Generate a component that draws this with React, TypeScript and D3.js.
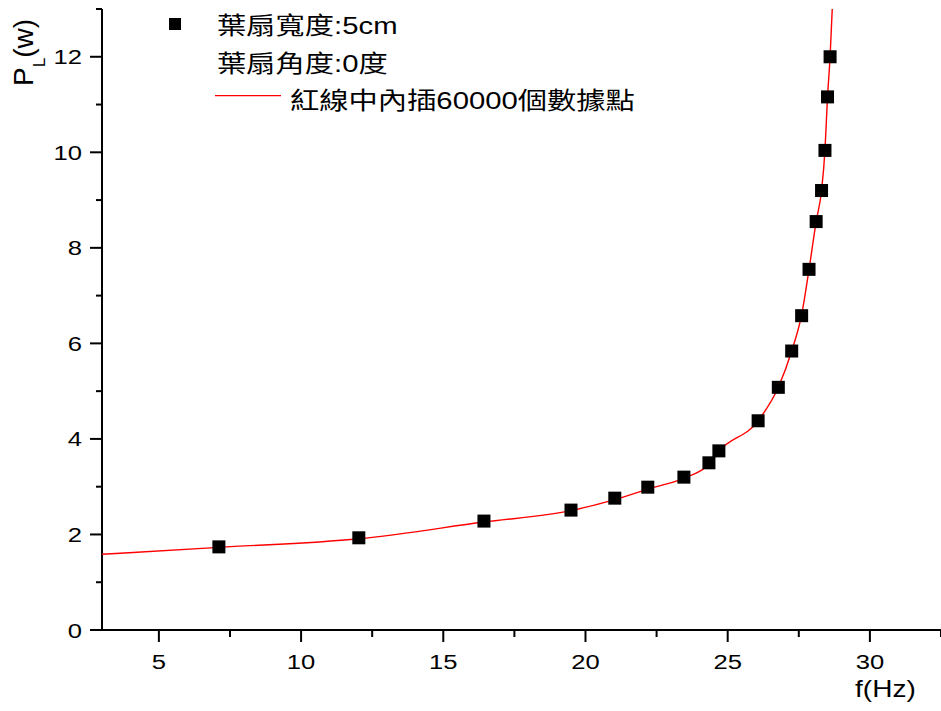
import React from "react";
import * as d3 from "d3";

// measured points: frequency (Hz) vs load power (W)
const freqHz = [
  7.11, 12.03, 16.43, 19.49, 21.03, 22.19, 23.46, 24.34, 24.69, 26.07, 26.78,
  27.25, 27.6, 27.86, 28.11, 28.3, 28.42, 28.51, 28.6,
];
const powerW = [
  1.74, 1.93, 2.28, 2.51, 2.76, 2.99, 3.2, 3.5, 3.75, 4.38, 5.08, 5.84, 6.58,
  7.55, 8.55, 9.2, 10.04, 11.16, 12.0,
];

// red interpolated curve
const curveF = [
  3, 7.11, 12.03, 16.43, 19.49, 21.03, 22.19, 23.46, 24.34, 24.69, 26.07, 26.78,
  27.25, 27.6, 27.86, 28.11, 28.3, 28.42, 28.51, 28.6, 28.68,
];
const curveP = [
  1.585, 1.73, 1.91, 2.26, 2.5, 2.73, 2.95, 3.18, 3.47, 3.74, 4.38, 5.08, 5.84,
  6.6, 7.55, 8.55, 9.2, 10.04, 11.16, 12.0, 13.05,
];

const xMajor = [5, 10, 15, 20, 25, 30];
const xMinor = [7.5, 12.5, 17.5, 22.5, 27.5, 32.5];
const yMajor = [0, 2, 4, 6, 8, 10, 12];
const yMinor = [1, 3, 5, 7, 9, 11, 13];

const legendLines = ["葉扇寬度:5cm", "葉扇角度:0度", "紅線中內插60000個數據點"];

const width = 941;
const height = 711;
const font = "'Liberation Sans', Arial, 'Noto Sans CJK TC', sans-serif";
const stretch = "scale(1.22,1)";

export default function App() {
  const x = d3.scaleLinear().domain([3, 32.5]).range([102, 941]);
  const y = d3.scaleLinear().domain([0, 13]).range([630, 9]);

  const pts = freqHz.map((f, i) => [f, powerW[i]]);
  const curve = curveF.map((f, i) => [f, curveP[i]]);
  const line = d3
    .line<number[]>()
    .x((d) => x(d[0]))
    .y((d) => y(d[1]))
    .curve(d3.curveMonotoneX);

  return (
    <svg
      width={width}
      height={height}
      style={{ position: "absolute", left: 0, top: 0 }}
      fontFamily={font}
    >
      <defs>
        <clipPath id="plot">
          <rect x={102} y={y(13)} width={width - 102} height={630 - y(13)} />
        </clipPath>
      </defs>
      <rect width={width} height={height} fill="white" />

      {/* axes */}
      <line x1={102} x2={width} y1={630} y2={630} stroke="black" strokeWidth={2} />
      <line x1={102} x2={102} y1={y(13)} y2={631} stroke="black" strokeWidth={2} />
      {xMajor.map((t) => (
        <g key={"xm" + t}>
          <line x1={x(t)} x2={x(t)} y1={630} y2={642} stroke="black" strokeWidth={2} />
          <text
            transform={`translate(${x(t)},669) ${stretch}`}
            textAnchor="middle"
            fontSize={21}
          >
            {t}
          </text>
        </g>
      ))}
      {xMinor.map((t) => (
        <line key={"xn" + t} x1={x(t)} x2={x(t)} y1={630} y2={637} stroke="black" strokeWidth={2} />
      ))}
      {yMajor.map((t) => (
        <g key={"ym" + t}>
          <line x1={90} x2={102} y1={y(t)} y2={y(t)} stroke="black" strokeWidth={2} />
          <text
            transform={`translate(82,${y(t) + 7.5}) ${stretch}`}
            textAnchor="end"
            fontSize={21}
          >
            {t}
          </text>
        </g>
      ))}
      {yMinor.map((t) => (
        <line key={"yn" + t} x1={96} x2={102} y1={y(t)} y2={y(t)} stroke="black" strokeWidth={2} />
      ))}

      {/* axis titles */}
      <text transform={`translate(855,697) ${stretch}`} fontSize={23}>
        f(Hz)
      </text>
      <text transform="translate(33,86) rotate(-90)" fontSize={28}>
        P
        <tspan fontSize={17} dy={12}>
          L
        </tspan>
        <tspan dy={-12}>(w)</tspan>
      </text>

      {/* data */}
      <path
        d={line(curve) ?? ""}
        fill="none"
        stroke="red"
        strokeWidth={1.4}
        clipPath="url(#plot)"
      />
      {pts.map((d, i) => (
        <rect
          key={i}
          x={x(d[0]) - 6.5}
          y={y(d[1]) - 6.5}
          width={13}
          height={13}
          fill="black"
        />
      ))}

      {/* legend */}
      <rect x={169} y={18} width={12} height={12} fill="black" />
      <text transform={`translate(217,33.5) ${stretch}`} fontSize={24}>
        {legendLines[0]}
      </text>
      <text transform={`translate(217,71.5) ${stretch}`} fontSize={24}>
        {legendLines[1]}
      </text>
      <line x1={215} x2={281} y1={95.7} y2={95.7} stroke="red" strokeWidth={1.2} />
      <text transform={`translate(290,108.5) ${stretch}`} fontSize={24}>
        {legendLines[2]}
      </text>
    </svg>
  );
}
